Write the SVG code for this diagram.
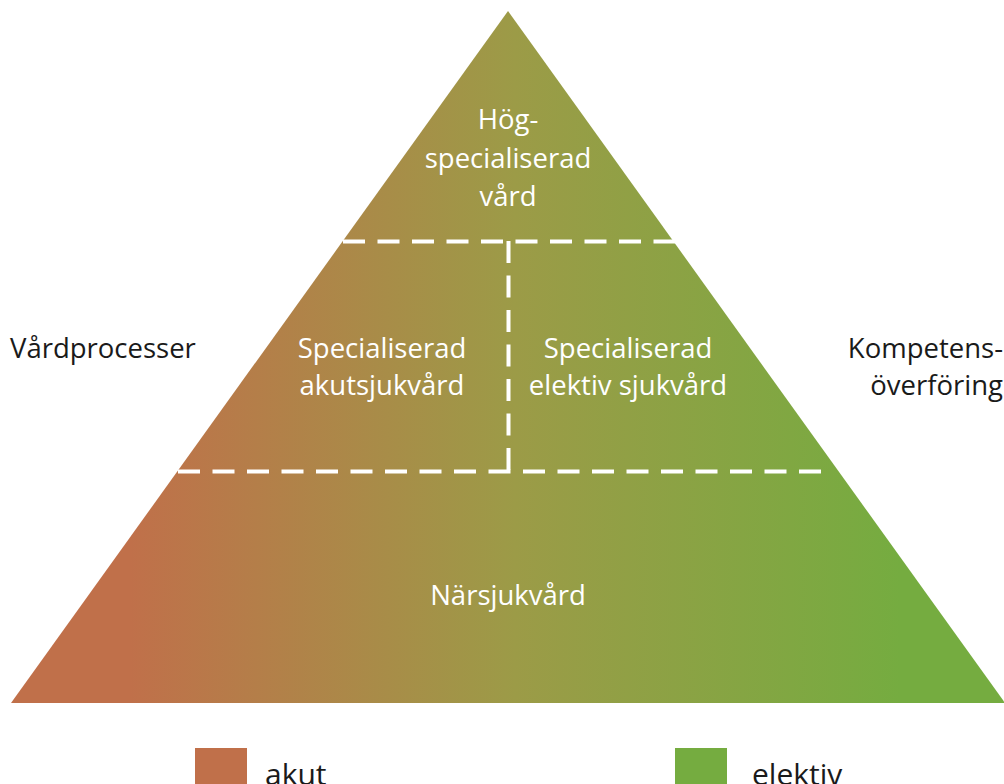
<svg xmlns="http://www.w3.org/2000/svg" width="1004" height="784" viewBox="0 0 1004 784">
<defs>
<linearGradient id="g" gradientUnits="userSpaceOnUse" x1="130" y1="0" x2="900" y2="0">
<stop offset="0" stop-color="#C0704A"/>
<stop offset="0.5" stop-color="#9C9B47"/>
<stop offset="1" stop-color="#75AC40"/>
</linearGradient>
<style>
.t{font-family:"Open Sans","Noto Sans",sans-serif;font-size:27.5px;}
.w{fill:#fff;text-anchor:middle;}
.k{fill:#1a1a1a;}
.d{stroke:#fff;stroke-width:4;stroke-dasharray:22 12.5;fill:none;}
</style>
</defs>
<g id="pyramid">
<polygon points="508,11 11,703 1005,703" fill="url(#g)"/>
</g>
<g id="connectors">
<line class="d" x1="343" y1="241.5" x2="675" y2="241.5"/>
<line class="d" x1="178" y1="471.5" x2="825" y2="471.5"/>
<line class="d" x1="508.5" y1="241" x2="508.5" y2="471"/>
</g>
<g id="top">
<text class="t w" x="508" y="129">Hög-</text>
<text class="t w" x="508" y="168">specialiserad</text>
<text class="t w" x="508" y="206">vård</text>
</g>
<g id="spec-akut">
<text class="t w" x="382" y="358">Specialiserad</text>
<text class="t w" x="382" y="395">akutsjukvård</text>
</g>
<g id="spec-elektiv">
<text class="t w" x="628" y="358">Specialiserad</text>
<text class="t w" x="628" y="395">elektiv sjukvård</text>
</g>
<g id="nar">
<text class="t w" x="508" y="605">Närsjukvård</text>
</g>
<g id="left-label">
<text class="t k" x="10" y="358">Vårdprocesser</text>
</g>
<g id="right-label">
<text class="t k" x="1003" y="358" text-anchor="end">Kompetens-</text>
<text class="t k" x="1003" y="395" text-anchor="end">överföring</text>
</g>
<g id="legend-akut">
<rect x="195" y="748" width="52" height="40" fill="#C0704A"/>
<text class="t k" x="265" y="785" style="font-size:30px">akut</text>
</g>
<g id="legend-elektiv">
<rect x="675" y="748" width="52" height="40" fill="#75AC40"/>
<text class="t k" x="752" y="785" style="font-size:30px">elektiv</text>
</g>
</svg>
